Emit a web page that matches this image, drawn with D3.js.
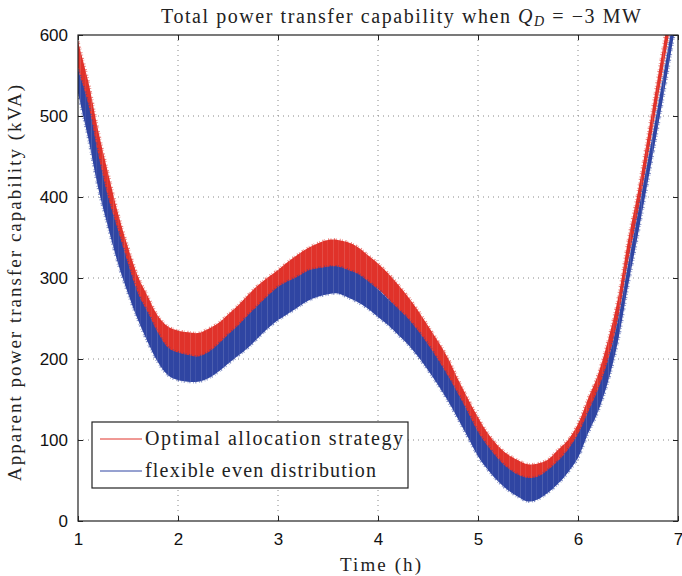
<!DOCTYPE html>
<html>
<head>
<meta charset="utf-8">
<script src="https://cdn.jsdelivr.net/npm/d3@7"></script>
<style>
  body { margin: 0; background: #fff; }
  svg { display: block; }
  .tick text { font-family: "Liberation Sans", Arial, sans-serif; font-size: 17px; fill: #111; }
  .serif { font-family: "Liberation Serif", "DejaVu Serif", serif; fill: #222; }
</style>
</head>
<body>
<svg width="682" height="576"></svg>
<script>
// time axis (h)
const time = d3.range(61).map(i => +(1 + i * 0.1).toFixed(1));

// optimal allocation strategy: lower / upper edge of the noisy band (kVA)
const redLow = [560, 500, 442, 390, 343, 302, 269, 242, 221, 208,
  203, 201, 201, 205, 213, 222, 232, 243, 255, 265,
  274, 283, 291, 298, 305, 311, 312, 309, 303, 294,
  286, 274, 260, 246, 230, 211, 192, 171, 145, 121,
  98, 79, 64, 53, 46, 44, 47, 54, 66, 78,
  97, 125, 155, 197, 249, 320, 381, 451, 523, 594, 667];
const redHigh = [592, 544, 483, 430, 380, 338, 302, 277, 253, 240,
  235, 233, 232, 237, 244, 255, 266, 279, 291, 301,
  310, 320, 329, 337, 343, 347, 347, 344, 338, 328,
  318, 306, 292, 277, 260, 241, 222, 201, 175, 151,
  128, 108, 93, 82, 75, 70, 71, 76, 88, 100,
  120, 151, 181, 223, 275, 346, 407, 477, 549, 620, 693];

// flexible even distribution
const blueLow = [528, 474, 412, 363, 318, 281, 248, 220, 196, 180,
  174, 172, 172, 176, 184, 194, 204, 214, 226, 238,
  248, 256, 264, 272, 277, 280, 281, 276, 270, 262,
  252, 242, 230, 218, 203, 186, 168, 148, 126, 103,
  80, 63, 49, 38, 30, 24, 27, 35, 46, 60,
  78, 108, 135, 172, 222, 290, 354, 420, 487, 557, 630];
const blueHigh = [557, 516, 454, 400, 359, 318, 281, 257, 232, 214,
  208, 205, 203, 208, 218, 230, 241, 254, 266, 278,
  289, 296, 302, 309, 312, 314, 314, 310, 305, 296,
  286, 274, 262, 250, 235, 218, 199, 179, 157, 134,
  110, 92, 77, 65, 57, 53, 55, 63, 74, 88,
  107, 134, 162, 198, 248, 316, 380, 446, 513, 583, 656];

const xTicks = [1, 2, 3, 4, 5, 6, 7];
const yTicks = [0, 100, 200, 300, 400, 500, 600];
const seriesNames = ["Optimal allocation strategy", "flexible even distribution"];
const seriesColors = ["#e0322a", "#2f45a2"];

const svg = d3.select("svg");
const margin = { top: 35, right: 4, bottom: 55, left: 78 };
const W = 682 - margin.left - margin.right,
  H = 576 - margin.top - margin.bottom;

const x = d3.scaleLinear().domain([1, 7]).range([0, W]);
const y = d3.scaleLinear().domain([0, 600]).range([H, 0]);

const g = svg.append("g").attr("transform", `translate(${margin.left},${margin.top})`);

// grid
g.append("g")
  .selectAll("line")
  .data(xTicks.slice(1, -1))
  .join("line")
  .attr("x1", d => x(d)).attr("x2", d => x(d))
  .attr("y1", 0).attr("y2", H)
  .attr("stroke", "#888").attr("stroke-dasharray", "1,4");
g.append("g")
  .selectAll("line")
  .data(yTicks.slice(1, -1))
  .join("line")
  .attr("y1", d => y(d)).attr("y2", d => y(d))
  .attr("x1", 0).attr("x2", W)
  .attr("stroke", "#888").attr("stroke-dasharray", "1,4");

const defs = svg.append("defs");
defs.append("clipPath").attr("id", "plot")
  .append("rect").attr("width", W).attr("height", H);

// texture to give the bands a noisy look
seriesColors.forEach((c, i) => {
  const p = defs.append("pattern").attr("id", "tex" + i)
    .attr("patternUnits", "userSpaceOnUse").attr("width", 11).attr("height", 40);
  p.append("rect").attr("width", 11).attr("height", 40).attr("fill", c);
  p.append("rect").attr("x", 2).attr("width", 0.6).attr("height", 40).attr("fill", "#fff").attr("opacity", 0.22);
  p.append("rect").attr("x", 7).attr("width", 0.5).attr("height", 40).attr("fill", "#fff").attr("opacity", 0.14);
});

const bands = [
  time.map((t, i) => ({ t, lo: redLow[i], hi: redHigh[i] })),
  time.map((t, i) => ({ t, lo: blueLow[i], hi: blueHigh[i] }))
];

const area = d3.area()
  .x(d => x(d.t))
  .y0(d => y(d.lo))
  .y1(d => y(d.hi))
  .curve(d3.curveCatmullRom);

const plot = g.append("g").attr("clip-path", "url(#plot)");
bands.forEach((b, i) => {
  // ragged edge: dashed outline makes short spikes along the band
  plot.append("path")
    .datum(b)
    .attr("d", area)
    .attr("fill", "none")
    .attr("stroke", seriesColors[i])
    .attr("stroke-opacity", 0.6)
    .attr("stroke-width", 3)
    .attr("stroke-dasharray", "1 1.5 0.7 2.5 1.2 1 0.6 3");
  plot.append("path")
    .datum(b)
    .attr("d", area)
    .attr("fill", `url(#tex${i})`);
});

// axes (MATLAB style box with inward ticks)
g.append("g").attr("transform", `translate(0,${H})`)
  .call(d3.axisBottom(x).tickValues(xTicks).tickFormat(d3.format("d")).tickSize(-5).tickPadding(12));
g.append("g")
  .call(d3.axisLeft(y).tickValues(yTicks).tickSize(-5).tickPadding(10));
g.append("g").attr("transform", `translate(${W},0)`)
  .call(d3.axisRight(y).tickValues(yTicks).tickSize(-5).tickFormat(""));
g.append("g")
  .call(d3.axisTop(x).tickValues(xTicks).tickSize(-5).tickFormat(""));
g.selectAll(".domain").remove();
g.selectAll(".tick line").attr("stroke", "#222");
g.append("rect").attr("width", W).attr("height", H)
  .attr("fill", "none").attr("stroke", "#222").attr("stroke-width", 1.2);

// title
const title = svg.append("text").attr("class", "serif")
  .attr("x", 161).attr("y", 23)
  .attr("font-size", 20)
  .attr("textLength", 480).attr("lengthAdjust", "spacing");
title.append("tspan").text("Total power transfer capability when ");
title.append("tspan").attr("font-style", "italic").text("Q");
title.append("tspan").attr("font-style", "italic").attr("font-size", 14).attr("dy", 3).text("D");
title.append("tspan").attr("dy", -3).text(" = \u22123 MW");

// axis labels
svg.append("text").attr("class", "serif")
  .attr("x", 340).attr("y", 571).attr("font-size", 19)
  .attr("textLength", 81).attr("lengthAdjust", "spacing")
  .text("Time (h)");
svg.append("text").attr("class", "serif")
  .attr("transform", "translate(21,481) rotate(-90)")
  .attr("font-size", 19)
  .attr("textLength", 396).attr("lengthAdjust", "spacing")
  .text("Apparent power transfer capability (kVA)");

// legend
const legendWidths = [258, 231];
const lg = svg.append("g").attr("transform", "translate(92,422)");
lg.append("rect").attr("width", 316).attr("height", 66)
  .attr("fill", "#fff").attr("stroke", "#222").attr("stroke-width", 1.2);
seriesNames.forEach((n, i) => {
  const yy = 17 + i * 32;
  lg.append("line").attr("x1", 8).attr("x2", 50).attr("y1", yy).attr("y2", yy)
    .attr("stroke", seriesColors[i]).attr("stroke-width", 1);
  lg.append("text").attr("class", "serif")
    .attr("x", 53).attr("y", yy + 6).attr("font-size", 20)
    .attr("textLength", legendWidths[i]).attr("lengthAdjust", "spacing")
    .text(n);
});
</script>
</body>
</html>
